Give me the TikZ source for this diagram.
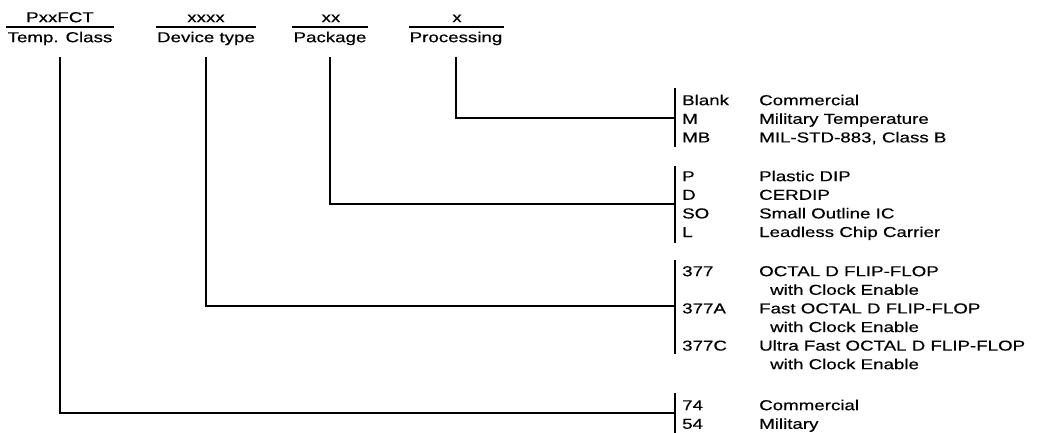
\documentclass[tikz,border=0pt]{standalone}
\usepackage{fontspec}
\setmainfont{Liberation Sans}[FakeStretch=1.3, FakeBold=0.4]
\usetikzlibrary{positioning}

\begin{document}
\begin{tikzpicture}[x=1pt, y=-1pt, font=\fontsize{14.4}{18.6}\selectfont,
    code/.style={anchor=base, inner sep=0pt},
    field/.style={anchor=base, inner xsep=1pt, inner ysep=4.5pt},
    entry/.style={anchor=base west, inner sep=0pt, align=left},
    link/.style={line width=1.3pt},
]
\useasboundingbox (0,0) rectangle (1038,433);
% headers
\node[code] (tempCode) at (60,22.2) {PxxFCT};
\node[field] (tempLbl) at (60,42.2) {Temp. Class};
\node[code] (devCode) at (206,22.2) {xxxx};
\node[field] (devLbl) at (206,42.2) {Device type};
\node[code] (pkgCode) at (331,22.2) {xx};
\node[field] (pkgLbl) at (330,42.2) {Package};
\node[code] (procCode) at (457,22.2) {x};
\node[field] (procLbl) at (456,42.2) {Processing};
\draw[link] (tempLbl.north west) -- (tempLbl.north east);
\draw[link] (devLbl.north west) -- (devLbl.north east);
\draw[link] (pkgLbl.north west) -- (pkgLbl.north east);
\draw[link] (procLbl.north west) -- (procLbl.north east);
% processing
\node[entry] (blank) at (682,105.2) {Blank};
\node[entry] (m) at (682,123.8) {M};
\node[entry] (mb) at (682,142.4) {MB};
\node[entry] (blankTxt) at (759,105.2) {Commercial};
\node[entry] (mTxt) at (759,123.8) {Military Temperature};
\node[entry] (mbTxt) at (759,142.4) {MIL-STD-883, Class B};
% package
\node[entry] (p) at (682,181.2) {P};
\node[entry] (d) at (682,199.8) {D};
\node[entry] (so) at (682,218.4) {SO};
\node[entry] (l) at (682,237) {L};
\node[entry] (pTxt) at (759,181.2) {Plastic DIP};
\node[entry] (dTxt) at (759,199.8) {CERDIP};
\node[entry] (soTxt) at (759,218.4) {Small Outline IC};
\node[entry] (lTxt) at (759,237) {Leadless Chip Carrier};
% device type (two-line texts sit on their last baseline)
\node[entry] (d377) at (682,276.2) {377};
\node[entry] (d377a) at (682,313.4) {377A};
\node[entry] (d377c) at (682,350.6) {377C};
\node[entry] (d377Txt) at (759,294.8) {OCTAL D FLIP-FLOP\\\hspace*{11pt}with Clock Enable};
\node[entry] (d377aTxt) at (759,332) {Fast OCTAL D FLIP-FLOP\\\hspace*{11pt}with Clock Enable};
\node[entry] (d377cTxt) at (759,369.2) {Ultra Fast OCTAL D FLIP-FLOP\\\hspace*{11pt}with Clock Enable};
% temp class
\node[entry] (t74) at (682,410.2) {74};
\node[entry] (t54) at (682,428.8) {54};
\node[entry] (t74Txt) at (759,410.2) {Commercial};
\node[entry] (t54Txt) at (759,428.8) {Military};
% bars
\coordinate (procTop) at (675,88);  \coordinate (procBot) at (675,147);  \coordinate (procJoin) at (675,118);
\coordinate (pkgTop) at (675,166);  \coordinate (pkgBot) at (675,243);   \coordinate (pkgJoin) at (675,204);
\coordinate (devTop) at (675,260);  \coordinate (devBot) at (675,354);   \coordinate (devJoin) at (675,306);
\coordinate (tempTop) at (675,393); \coordinate (tempBot) at (675,433);  \coordinate (tempJoin) at (675,413);
\draw[link] (procTop) -- (procBot);
\draw[link] (pkgTop) -- (pkgBot);
\draw[link] (devTop) -- (devBot);
\draw[link] (tempTop) -- (tempBot);
\draw[link, shorten <=7pt] (procLbl.south) |- (procJoin);
\draw[link, shorten <=7pt] (pkgLbl.south) |- (pkgJoin);
\draw[link, shorten <=7pt] (devLbl.south) |- (devJoin);
\draw[link, shorten <=7pt] (tempLbl.south) |- (tempJoin);
\end{tikzpicture}
\end{document}
